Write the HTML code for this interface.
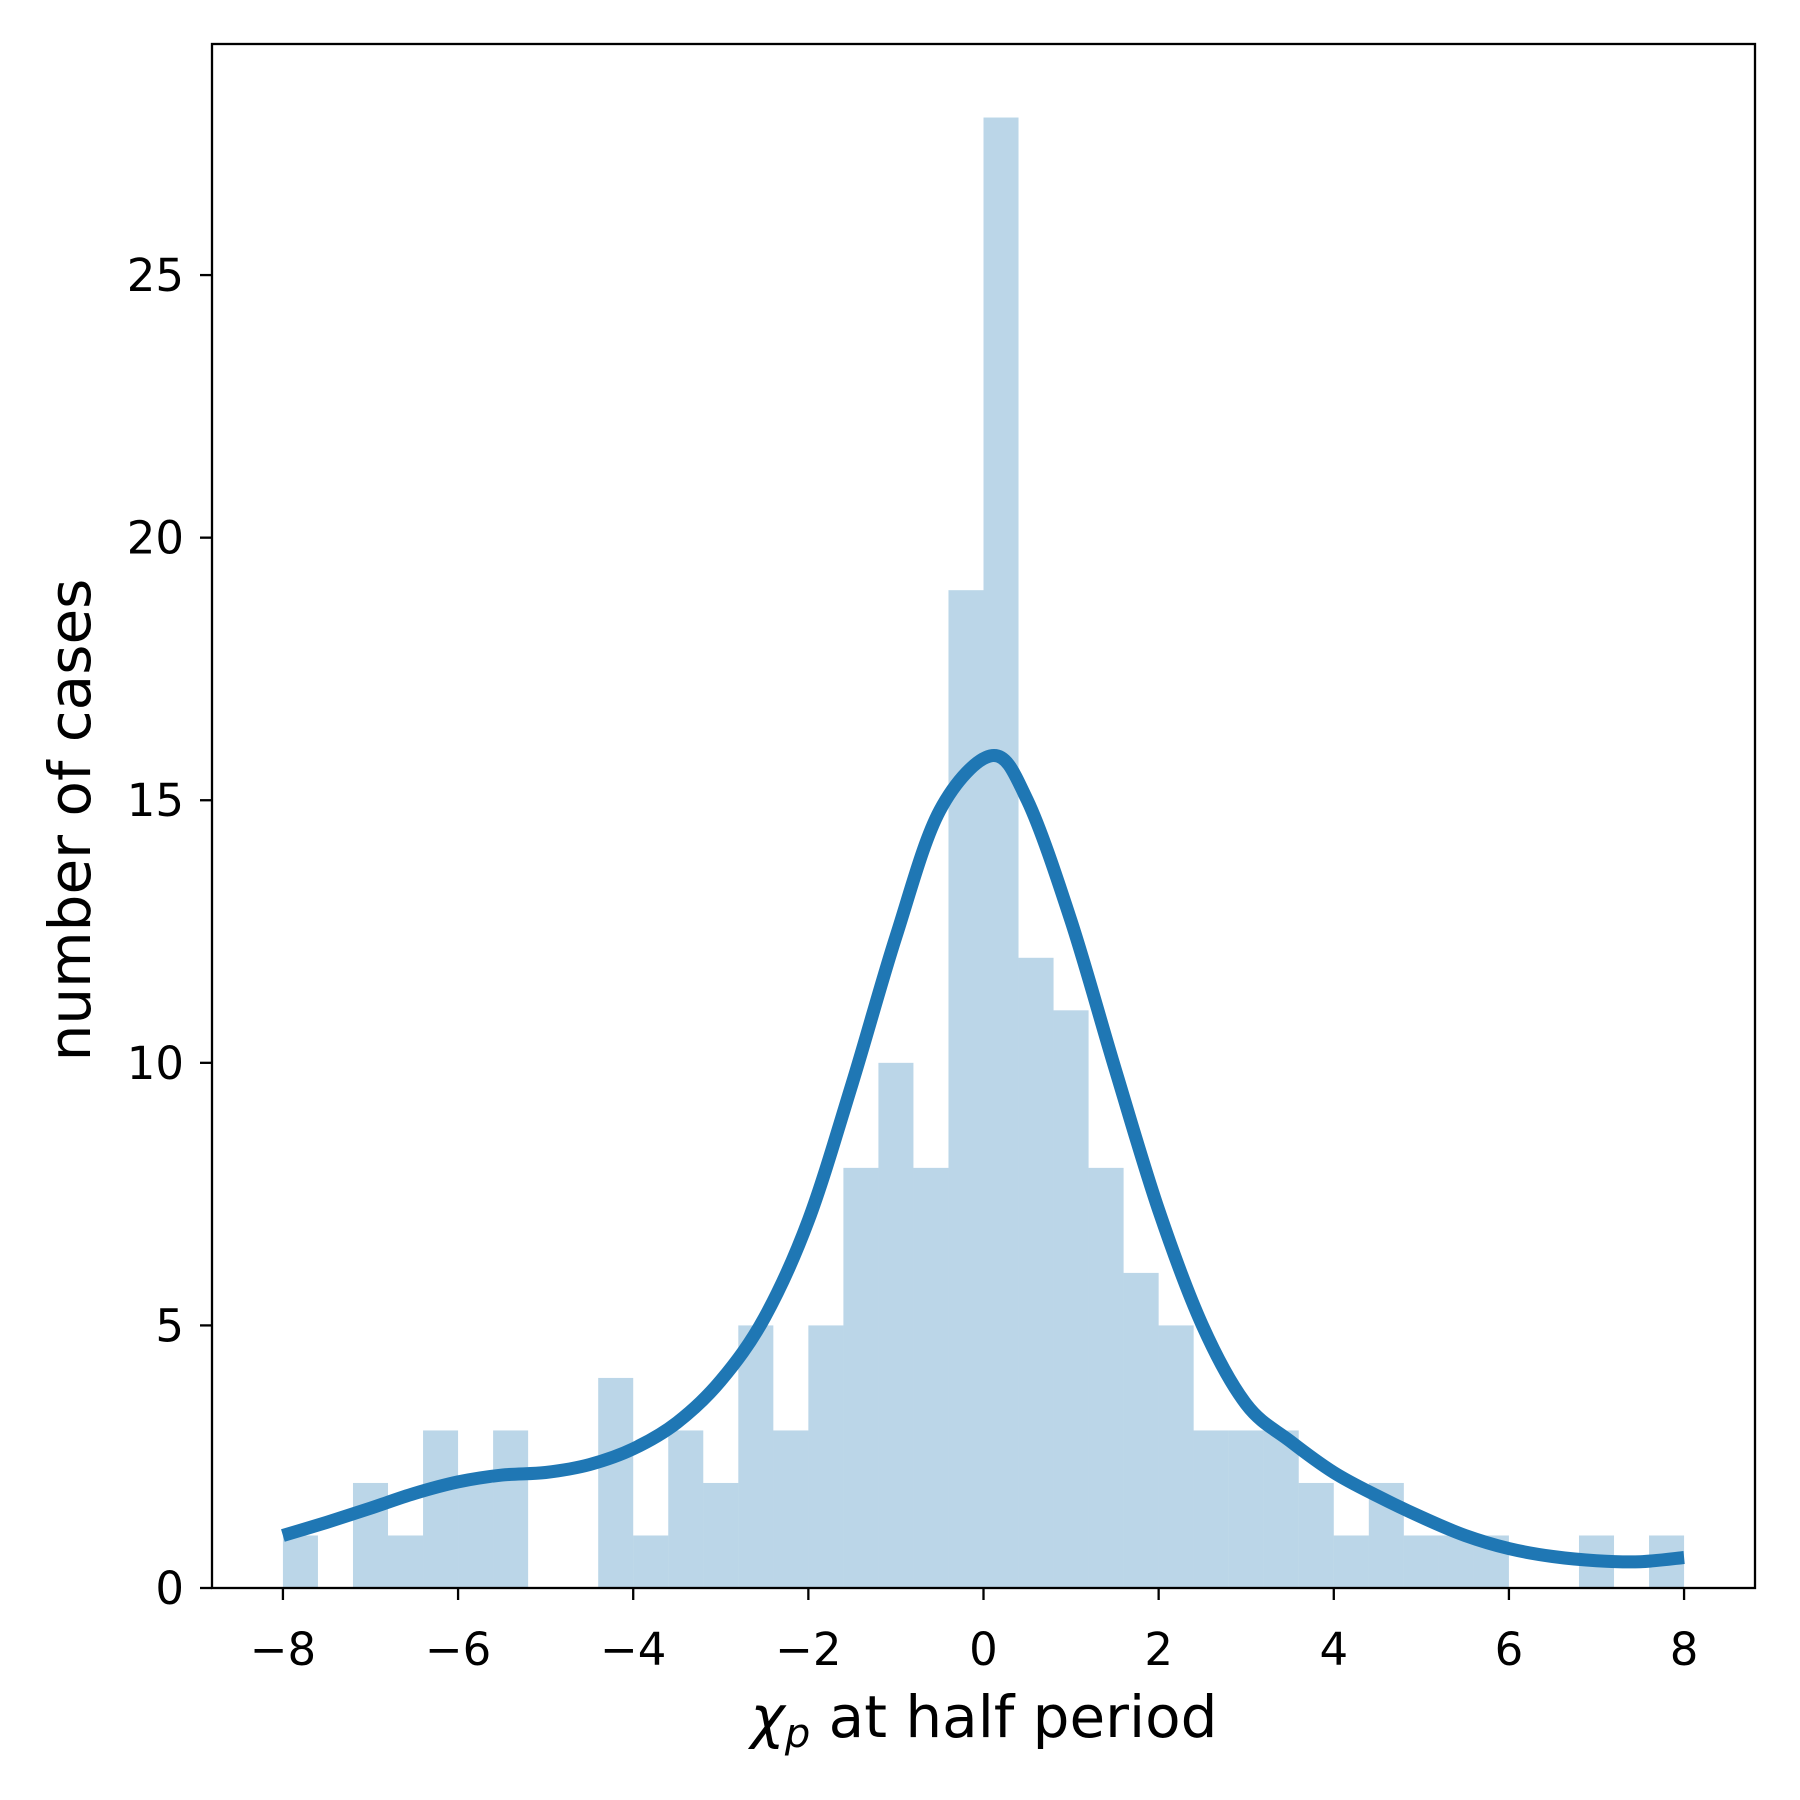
<!DOCTYPE html>
<html><head><meta charset="utf-8"><style>body{margin:0;background:#fff}svg{display:block}text{font-family:"DejaVu Sans","Liberation Sans",sans-serif;fill:#000}</style></head>
<body>
<svg id="chart" width="1800" height="1800" viewBox="0 0 1800 1800"></svg>
<script>
const binEdgesStart = -8;
const binWidth = 0.4;
const counts = [1,0,2,1,3,2,3,0,0,4,1,3,2,5,3,5,8,10,8,19,28,12,11,8,6,5,3,3,3,2,1,2,1,1,1,0,0,1,0,1];
const curveX = [-8,-7.5,-7,-6.5,-6,-5.5,-5,-4.5,-4,-3.5,-3,-2.5,-2,-1.5,-1,-0.5,0.1,0.5,1,1.5,2,2.5,3,3.5,4,4.5,5,5.5,6,6.5,7,7.5,8];
const curveY = [1.0,1.25,1.52,1.8,2.02,2.15,2.2,2.35,2.65,3.15,3.95,5.15,7.0,9.6,12.4,14.8,15.85,15.0,12.7,9.9,7.2,5.0,3.5,2.8,2.2,1.75,1.35,1.0,0.75,0.6,0.52,0.5,0.58];
const xTicks = [-8,-6,-4,-2,0,2,4,6,8];
const yTicks = [0,5,10,15,20,25];
const L=212,R=1755,T=44,B=1588;
const xMin=-8.81,xMax=8.81,yMax=29.4;
const sx=v=>L+(v-xMin)/(xMax-xMin)*(R-L);
const sy=v=>B-v/yMax*(B-T);
const svg=document.getElementById('chart');
const NS='http://www.w3.org/2000/svg';
function mk(tag,attrs,parent){const e=document.createElementNS(NS,tag);for(const k in attrs)e.setAttribute(k,attrs[k]);(parent||svg).appendChild(e);return e;}
const bars=mk('g',{});


counts.forEach((c,i)=>{if(!c)return;const x0=binEdgesStart+i*binWidth;
const r=mk('rect',{x:sx(x0),y:sy(c),width:sx(x0+binWidth)-sx(x0),height:sy(0)-sy(c),fill:'#1f77b4','fill-opacity':0.3},bars);

});
const pts=curveX.map((x,i)=>[sx(x),sy(curveY[i])]);
let d='M'+pts[0][0].toFixed(1)+' '+pts[0][1].toFixed(1);
for(let i=0;i<pts.length-1;i++){const p0=pts[Math.max(0,i-1)],p1=pts[i],p2=pts[i+1],p3=pts[Math.min(pts.length-1,i+2)];
const c1=[p1[0]+(p2[0]-p0[0])/6,p1[1]+(p2[1]-p0[1])/6],c2=[p2[0]-(p3[0]-p1[0])/6,p2[1]-(p3[1]-p1[1])/6];
d+=` C${c1[0].toFixed(1)} ${c1[1].toFixed(1)} ${c2[0].toFixed(1)} ${c2[1].toFixed(1)} ${p2[0].toFixed(1)} ${p2[1].toFixed(1)}`;}
const p=mk('path',{d:d,fill:'none',stroke:'#1f77b4','stroke-width':13,'stroke-linejoin':'round'});


const fr=mk('rect',{x:L,y:T,width:R-L,height:B-T,fill:'none',stroke:'#000','stroke-width':2.3});


xTicks.forEach(v=>{mk('line',{x1:sx(v),x2:sx(v),y1:B,y2:B+12,stroke:'#000','stroke-width':2.3});
const t=mk('text',{x:sx(v),y:1665,'font-size':45,'text-anchor':'middle'});t.textContent=(v<0?'\u2212':'')+Math.abs(v);

});
yTicks.forEach(v=>{mk('line',{x1:L-12,x2:L,y1:sy(v),y2:sy(v),stroke:'#000','stroke-width':2.3});
const t=mk('text',{x:184,y:sy(v)+16,'font-size':45,'text-anchor':'end'});t.textContent=v;

});
</script>
<div style="position:absolute;left:0;top:0;width:1800px;height:1800px;pointer-events:none">
<svg width="1800" height="1800">
<text x="984" y="1737" font-size="58" text-anchor="middle" style="font-family:'DejaVu Sans',sans-serif"><tspan font-style="italic">χ</tspan><tspan font-style="italic" font-size="40" dy="10">p</tspan><tspan dy="-10"> at half period</tspan></text>
<text transform="translate(90,820) rotate(-90)" font-size="58" text-anchor="middle" style="font-family:'DejaVu Sans',sans-serif">number of cases</text>
</svg></div>
</body></html>
